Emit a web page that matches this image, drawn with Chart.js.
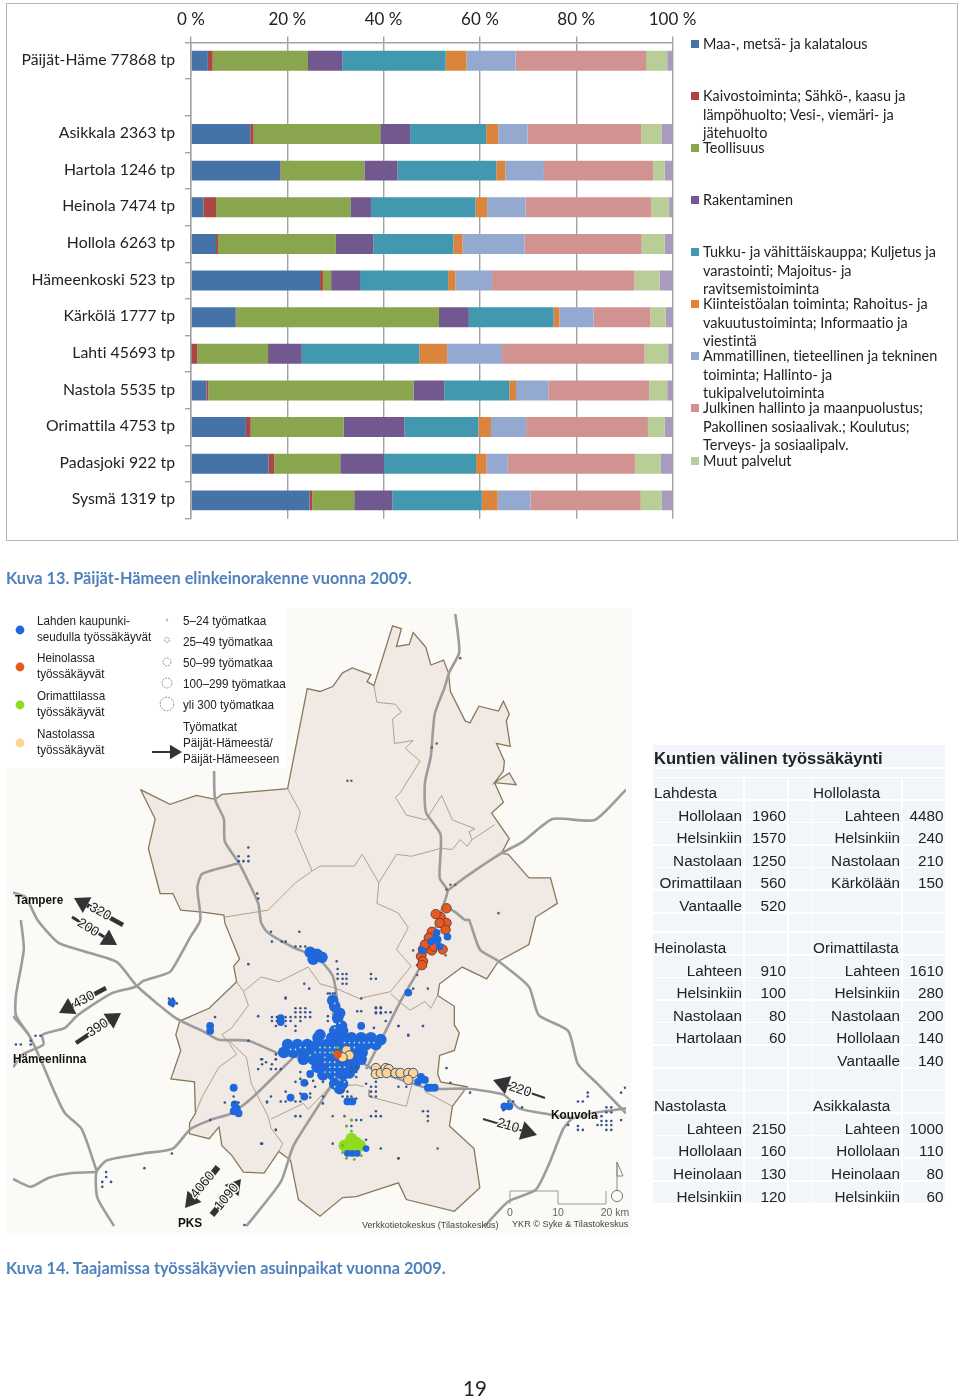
<!DOCTYPE html>
<html lang="fi">
<head>
<meta charset="utf-8">
<title>Päijät-Hämeen elinkeinorakenne</title>
<script src="https://cdn.jsdelivr.net/npm/chart.js@4/dist/chart.umd.min.js"></script>
<style>
    html, body { margin: 0; padding: 0; background: #fff; }
    #page { position: relative; width: 960px; height: 1398px; overflow: hidden; font-family: Lato, sans-serif; color: #222; font-variant-ligatures: none; }
    #page canvas { position: absolute; }
    .frame { position: absolute; left: 6px; top: 3px; width: 950px; height: 536px; border: 1.5px solid #b4b4b4; }
    .t { position: absolute; white-space: nowrap; transform: translateY(-50%); }
    .leg { font-size: 14.45px; line-height: 18.7px; white-space: pre; transform: none; color: #222; }
    .swatch { position: absolute; width: 8px; height: 8px; }
    .caption { font-weight: 700; font-size: 16.3px; color: #4f81bd; }
    .mapbg { position: absolute; background: #fbfaf7; }
    .ml { font-family: "Liberation Sans", sans-serif; font-size: 13.6px; color: #222; transform: translateY(-50%) scaleX(0.86); transform-origin: left center; }
    .city { font-family: "Liberation Sans", sans-serif; font-weight: 700; font-size: 13.4px; color: #111; transform: translateY(-50%) scaleX(0.88); transform-origin: left center; text-shadow: 0 0 2px #fff; }
    .src { font-family: "Liberation Sans", sans-serif; font-size: 9.1px; color: #444; }
    #kuntataulu { position: absolute; left: 653px; top: 745px; display: grid; column-gap: 1.5px; row-gap: 1.5px;
        grid-template-columns: 90px 42.5px 22px 89px 42px;
        font-family: "Liberation Sans", sans-serif; font-size: 15.3px; color: #222; }
    #kuntataulu div { background: #f2f6fa; text-align: right; white-space: nowrap; line-height: 12px; display: flex; align-items: flex-end; justify-content: flex-end; padding-right: 1px; }
    #kuntataulu div.nimi { justify-content: flex-start; padding-left: 1px; padding-right: 0; }
    #kuntataulu div.otsikko { grid-column: 1 / 6; justify-content: flex-start; font-weight: 700; font-size: 16.6px; line-height: 16px; padding-left: 1px; padding-right: 0; }
    #kuntataulu div.ohut { grid-column: 1 / 6; }
    #overlay { position: absolute; left: 0; top: 0; }
    #overlay text { font-family: "Liberation Sans", sans-serif; font-size: 13.5px; fill: #222; paint-order: stroke; stroke: #fbfaf7; stroke-width: 3px; text-anchor: middle; dominant-baseline: middle; }
</style>
</head>
<body>
<div id="page">
    <div class="frame"></div>
    <canvas id="graficoToimialat" width="960" height="545" style="left:0;top:0"></canvas>
    <div class="mapbg" style="left:7px;top:768px;width:625px;height:465px"></div>
    <div class="mapbg" style="left:287px;top:608px;width:345px;height:160px"></div>
    <canvas id="kartta" width="625" height="625" style="left:7px;top:608px"></canvas>
    <svg id="overlay" width="960" height="1398"></svg>
    <div id="kuntataulu"></div>
</div>

<script>
// toimialat chart
const categories = ["Päijät-Häme 77868 tp", "", "Asikkala 2363 tp", "Hartola 1246 tp", "Heinola 7474 tp", "Hollola 6263 tp",
    "Hämeenkoski 523 tp", "Kärkölä 1777 tp", "Lahti 45693 tp", "Nastola 5535 tp", "Orimattila 4753 tp", "Padasjoki 922 tp", "Sysmä 1319 tp"];
const tickLabels = [0, 20, 40, 60, 80, 100];

const maa =          [3.5, 0, 12.3, 18.5, 2.6, 5.2, 26.8, 9.3, 0.1, 3.2, 11.4, 16.1, 24.6];
const kaivos =       [1.0, 0, 0.7, 0.1, 2.6, 0.4, 0.6, 0.1, 1.2, 0.4, 1.0, 1.2, 0.6];
const teollisuus =   [19.8, 0, 26.3, 17.4, 27.9, 24.5, 1.7, 42.1, 14.7, 42.6, 19.3, 13.7, 8.7];
const rakentaminen = [7.1, 0, 6.2, 6.9, 4.3, 7.8, 6.0, 6.2, 7.0, 6.4, 12.6, 9.1, 7.9];
const tukku =        [21.5, 0, 15.8, 20.5, 21.7, 16.6, 18.3, 17.6, 24.4, 13.5, 15.4, 19.1, 18.6];
const kiinteisto =   [4.3, 0, 2.5, 1.9, 2.4, 1.9, 1.5, 1.2, 5.8, 1.4, 2.6, 2.2, 3.3];
const ammatillinen = [10.2, 0, 6.1, 8.0, 8.0, 12.9, 7.6, 7.1, 11.4, 6.7, 7.3, 4.4, 6.8];
const julkinen =     [27.1, 0, 23.6, 22.7, 26.1, 24.3, 29.6, 11.8, 29.6, 21.0, 25.3, 26.4, 22.9];
const muut =         [4.4, 0, 4.2, 2.4, 3.7, 4.8, 5.2, 3.2, 4.9, 3.7, 3.5, 5.3, 4.4];
const tuntematon =   [1.2, 0, 2.4, 1.6, 0.9, 1.6, 2.6, 1.4, 0.9, 1.2, 1.7, 2.5, 2.2];

const seriesValues = [maa, kaivos, teollisuus, rakentaminen, tukku, kiinteisto, ammatillinen, julkinen, muut, tuntematon];
const seriesColors = ["#4572a7", "#aa4643", "#89a54e", "#71588f", "#4198af", "#db843d", "#93a9cf", "#d19392", "#b9cd96", "#a99bbd"];
const legendLabels = [
    "Maa-, metsä- ja kalatalous",
    "Kaivostoiminta; Sähkö-, kaasu ja\nlämpöhuolto; Vesi-, viemäri- ja\njätehuolto",
    "Teollisuus",
    "Rakentaminen",
    "Tukku- ja vähittäiskauppa; Kuljetus ja\nvarastointi; Majoitus- ja\nravitsemistoiminta",
    "Kiinteistöalan toiminta; Rahoitus- ja\nvakuutustoiminta; Informaatio ja\nviestintä",
    "Ammatillinen, tieteellinen ja tekninen\ntoiminta; Hallinto- ja\ntukipalvelutoiminta",
    "Julkinen hallinto ja maanpuolustus;\nPakollinen sosiaalivak.; Koulutus;\nTerveys- ja sosiaalipalv.",
    "Muut palvelut"
];
const legendTops = [35, 87, 139, 191, 243, 295, 347, 399, 452];

// kuntien välinen työssäkäynti
const lahdesta = [["Hollolaan", 1960], ["Helsinkiin", 1570], ["Nastolaan", 1250], ["Orimattilaan", 560], ["Vantaalle", 520]];
const hollolasta = [["Lahteen", 4480], ["Helsinkiin", 240], ["Nastolaan", 210], ["Kärkölään", 150]];
const heinolasta = [["Lahteen", 910], ["Helsinkiin", 100], ["Nastolaan", 80], ["Hartolaan", 60]];
const orimattilasta = [["Lahteen", 1610], ["Helsinkiin", 280], ["Nastolaan", 200], ["Hollolaan", 140], ["Vantaalle", 140]];
const nastolasta = [["Lahteen", 2150], ["Hollolaan", 160], ["Heinolaan", 130], ["Helsinkiin", 120]];
const asikkalasta = [["Lahteen", 1000], ["Hollolaan", 110], ["Heinolaan", 80], ["Helsinkiin", 60]];

// kartta, map coordinates
const ulkoraja = [[137,787],[167,802],[194,793],[213,797],[220,792],[287,786],[307,684],[320,687],[333,682],[343,668],[353,663],[372,670],[368,677],[375,681],
    [394,620],[403,623],[398,641],[411,639],[415,627],[428,642],[433,660],[446,655],[451,668],[453,687],[468,717],[473,719],[482,702],[502,707],[507,697],[513,710],[510,717],[514,743],[500,740],
    [508,758],[507,768],[498,780],[513,770],[520,782],[498,780],[507,800],[495,811],[513,837],[505,852],[512,853],[533,877],[555,877],[562,903],[540,917],[533,945],[502,962],[490,980],[465,968],[442,985],
    [440,997],[457,1008],[457,1027],[462,1035],[457,1053],[442,1058],[440,1077],[443,1085],[470,1090],[455,1110],[452,1130],[477,1153],[483,1193],[457,1217],[408,1205],[400,1188],[357,1202],[343,1203],[320,1222],
    [298,1205],[290,1165],[278,1156],[263,1178],[242,1177],[230,1160],[220,1150],[217,1131],[207,1143],[187,1138],[187,1127],[193,1117],[192,1085],[168,1082],[178,1053],[173,1037],[177,1023],[207,1010],
    [235,983],[232,967],[238,960],[223,923],[222,915],[200,912],[178,910],[170,893],[157,893],[145,847],[152,817],[137,787]];
const sisarajat = [
    [[375,681],[378,698],[397,700],[403,708],[394,715],[396,740],[415,737],[407,745],[422,758],[402,790],[397,795],[408,813],[428,818],[444,793],[455,818],[478,827],[472,830],[475,838],[498,823]],
    [[287,786],[300,810],[295,830],[312,870],[320,865],[355,865],[363,853],[380,882],[398,853],[413,855],[443,847],[455,848],[463,838],[470,845],[475,838]],
    [[312,870],[295,882],[267,910],[223,917]],
    [[380,882],[378,903],[400,913],[410,928],[398,950],[413,967],[392,993],[360,1000],[337,990],[320,985],[308,968],[278,983],[260,978],[242,993],[235,983]],
    [[242,993],[247,1007],[230,1030],[220,1037],[227,1045],[235,1057],[217,1070],[200,1100],[193,1117]],
    [[227,1043],[245,1060],[250,1087],[267,1120],[270,1132],[282,1148],[278,1156]],
    [[270,1123],[303,1107],[308,1113],[330,1090],[357,1088],[365,1090]],
    [[370,1093],[370,1100],[408,1110],[415,1083]],
    [[427,1095],[455,1110],[468,1093]],
    [[392,995],[403,1005],[412,1012],[427,1003],[433,1010],[440,997]]
];
const tiet = [
    [[458,608],[462,647],[452,667],[447,683],[437,710],[433,753],[427,780],[428,810],[443,833],[442,877],[450,890],[445,907],[430,950],[420,972],[402,1003],[385,1037],[367,1072]],
    [[450,890],[470,875],[503,853],[527,840],[557,817],[600,818],[632,787]],
    [[445,905],[458,912],[468,920],[472,920],[483,950],[502,962],[533,988],[543,1017],[573,1033],[583,1067],[603,1087],[632,1117]],
    [[330,1040],[370,1070],[403,1083],[433,1092],[470,1092],[507,1098],[523,1112],[553,1118],[577,1122],[597,1117],[632,1112]],
    [[577,1122],[568,1133],[553,1170],[540,1195],[512,1207],[488,1232]],
    [[212,768],[213,797],[222,817],[223,840],[238,863],[257,903],[260,923],[267,933],[293,948],[310,955],[322,963],[333,977],[337,1000],[333,1017]],
    [[238,862],[200,873],[195,887],[198,920],[188,937],[177,957],[167,973],[140,982],[132,988],[107,995],[73,1017],[60,1030],[37,1037],[38,1047],[17,1057],[7,1070]],
    [[7,892],[20,897],[32,920],[53,943],[80,952],[113,963],[133,987],[173,1020],[200,1033],[217,1042],[247,1043],[280,1057],[300,1060]],
    [[340,1075],[320,1107],[293,1150],[280,1187],[245,1232]],
    [[293,1060],[250,1102],[230,1117],[208,1124],[188,1133],[170,1153],[140,1158],[103,1165],[92,1177],[93,1203],[110,1232]],
    [[92,1177],[67,1178],[43,1183],[25,1192],[7,1184]],
    [[7,1018],[23,1037],[35,1062],[50,1097],[60,1117],[77,1133],[92,1175]],
    [[15,920],[18,950],[10,997],[10,1017],[23,1037]]
];
const pienetSiniset = [[295,1010],[300,1010],[305,1010],[295,1014],[300,1014],[305,1014],[310,1014],[271,1019],[276,1019],[285,1019],[290,1019],[295,1019],[300,1019],[305,1019],[310,1019],
    [271,1023],[276,1023],[285,1023],[290,1023],[300,1023],[275,1028],[285,1028],[295,1028],[295,1033],[285,1000],[328,995],[333,995],[328,1018],[328,1023],[377,1009],[382,1009],[377,1014],[382,1014],[387,1014],
    [358,1013],[362,1013],[375,1030],[387,1023],[400,1028],[425,1028],[410,1038],[260,1062],[265,1065],[275,1057],[275,1062],[270,1072],[280,1072],[300,1075],[300,1082],[295,1085],[307,1087],[313,1084],[323,1085],
    [315,1090],[270,1100],[266,1105],[280,1105],[285,1095],[285,1105],[295,1105],[300,1097],[310,1097],[310,1101],[300,1105],[295,1120],[300,1120],[323,1100],[323,1107],[343,1095],[348,1095],[343,1100],[348,1100],[352,1100],[357,1102],
    [357,1070],[352,1070],[357,1075],[352,1075],[357,1080],[367,1087],[377,1085],[372,1090],[377,1090],[372,1095],[377,1095],[372,1100],[377,1100],[377,1115],[377,1120],[372,1120],[382,1120],[347,1130],[352,1124],[357,1124],[362,1124],[352,1130],
    [275,1134],[260,1148],[333,1148],[367,1144],[382,1153],[425,1115],[430,1115],[430,1120],[400,1090],[408,1090],[400,1163],
    [247,846],[237,855],[247,855],[237,860],[242,860],[247,860],[256,893],[257,898],[270,932],[299,932],[271,942],[281,942],[285,942],[295,947],[300,947],[305,947],[247,965],[304,985],[309,990],[285,999],[257,1018],[213,1019],[247,1043],
    [261,1062],[261,1067],[271,1067],[257,1072],[275,1072],[275,1062],[232,1100],[223,1106],[232,1106],[237,1106],[208,1124],[261,1148],[275,1134],[266,1106],[169,1158],[141,1173],[102,1177],[102,1182],[98,1187],[107,1187],[98,1192],[243,1231],
    [166,1000],[170,1000],[166,1005],[174,1005],[170,1008],[30,1038],[35,1038],[10,1047],[15,1047],[25,1043],[25,1047],
    [512,1105],[517,1105],[507,1114],[526,1111],[473,1096],[453,1086],[449,1071],[593,1096],[593,1100],[583,1105],[588,1105],[573,1129],[583,1130],[583,1134],[588,1134],[602,1120],[607,1120],[612,1111],[617,1111],[612,1116],[617,1116],
    [607,1125],[612,1125],[617,1125],[603,1129],[607,1129],[612,1129],[617,1129],[612,1134],[617,1134],[627,1124],[627,1096],[631,1091],
    [337,962],[338,970],[338,975],[343,975],[347,975],[338,980],[343,980],[347,980],[343,985],[347,985],[372,975],[372,980],[377,980],[330,995],[335,995],[377,1010],[382,1010],[377,1015],[382,1015],[392,1014],[362,1000],[415,990],[400,1028],[425,1028],[410,1037]];
const ruskeatPisteet = [[463,653],[439,740],[434,744],[348,778],[352,778],[453,884],[458,884],[449,889],[502,913],[415,951],[419,966],[448,956],[419,976],[430,990],[333,1120],[345,1120],[400,1163],[440,1153],[430,1125]];
const suuretSiniset = [[287,1047],[297,1047],[307,1047],[317,1047],[327,1047],[337,1047],[347,1047],[357,1047],[367,1047],[377,1047],
    [318,1040],[332,1040],[342,1040],[352,1040],[362,1040],[372,1040],[382,1042],
    [283,1055],[293,1055],[303,1055],[313,1055],[323,1055],[333,1055],[343,1055],[353,1055],[363,1055],
    [303,1062],[313,1062],[323,1062],[333,1062],[343,1062],[353,1062],[362,1062],
    [317,1070],[327,1070],[337,1070],[347,1070],[355,1069],
    [323,1078],[333,1078],[343,1078],[350,1076],[335,1087],[343,1087],[340,1092],
    [333,1002],[335,1008],[340,1015],[338,1020],[342,1028],[335,1033],[343,1033],[320,1037],
    [310,953],[313,960],[322,958],[317,955]];
const keskiSiniset = [[280,1020],[280,1024],[310,1077],[304,1086],[290,1101],[304,1100],[348,1105],[353,1105],[362,1028],[410,994],[169,1004],[208,1028],[208,1033],[232,1091],[235,1112],[232,1115],[237,1117],[233,1108],
    [423,1080],[420,1085],[427,1083],[430,1091],[433,1091],[437,1091],[513,1110],[508,1110]];
const vaaleatPisteet = [[320,1050],[325,1050],[330,1050],[335,1050],[315,1055],[320,1055],[325,1055],[330,1055],[345,1045],[350,1045],[355,1045],[360,1045],[365,1045],[325,1065],[330,1065],[335,1065],[345,1050],[350,1050],[355,1050],
    [330,1070],[335,1070],[340,1070],[345,1070],[330,1075],[335,1075],[335,1080],[340,1083],[345,1085],[300,1050],[305,1050],[295,1052],[335,1005],[340,1025],[335,1030],[290,1052],[310,1058],[325,1060],[325,1075],[335,1090],[370,1045],[375,1045]];
const oranssit = [[449,908],[443,917],[449,923],[442,923],[434,932],[425,950],[434,951],[423,957],[425,962],[424,966],[438,914],[431,938],[427,945],[436,947],[445,950],[448,930]];
const oranssiKeskella = [[338,1057]];
const sinisetOranssissa = [[437,940],[442,947],[439,933],[450,937],[433,942],[424,951],[440,940]];
const keltaiset = [[377,1071],[377,1077],[382,1076],[387,1071],[390,1072],[388,1076],[397,1076],[402,1076],[410,1076],[415,1076],[410,1083],[347,1053],[350,1058],[343,1060]];
const vihreat = [[352,1143],[350,1148],[357,1147],[348,1153],[357,1153],[353,1150],[345,1150],[361,1150]];
const sinisetVihreissa = [[348,1158],[353,1158],[358,1158],[367,1153]];
const vihreatPienet = [[343,1150],[343,1157],[347,1163],[355,1164],[362,1160],[352,1135],[338,1050],[333,1055],[347,1130],[352,1124]];

// map texts
const karttaSelite1 = ["Lahden kaupunki-", "seudulla työssäkäyvät", "Heinolassa", "työssäkäyvät", "Orimattilassa", "työssäkäyvät", "Nastolassa", "työssäkäyvät"];
const karttaSelite1Y = [620, 636, 657, 673, 695, 711, 733, 749];
const karttaSelite2 = ["5–24 työmatkaa", "25–49 työmatkaa", "50–99 työmatkaa", "100–299 työmatkaa", "yli 300 työmatkaa", "Työmatkat", "Päijät-Hämeestä/", "Päijät-Hämeeseen"];
const karttaSelite2Y = [620, 641, 662, 683, 704, 726, 742, 758];

const page = document.getElementById("page");

function addText(text, x, y, cls) {
    let el = document.createElement("div");
    el.className = "t " + cls;
    el.textContent = text;
    el.style.left = x + "px";
    el.style.top = y + "px";
    page.appendChild(el);
    return el;
}

// chart legend
legendLabels.forEach(function (label, i) {
    let sw = document.createElement("div");
    sw.className = "swatch";
    sw.style.left = "691px";
    sw.style.top = (legendTops[i] + 5) + "px";
    sw.style.background = seriesColors[i];
    page.appendChild(sw);
    addText(label, 703, legendTops[i], "leg");
});

new Chart(document.getElementById("graficoToimialat"), {
    type: "bar",
    data: {
        labels: categories,
        datasets: seriesValues.map(function (values, i) {
            return {
                label: legendLabels[i] || "",
                data: values,
                backgroundColor: seriesColors[i],
                borderWidth: 0,
                barPercentage: 0.545,
                categoryPercentage: 1
            };
        })
    },
    options: {
        indexAxis: "y",
        responsive: false,
        animation: false,
        layout: { padding: { top: 0, left: 0, right: 287.5, bottom: 26.3 } },
        plugins: { legend: { display: false }, tooltip: { enabled: false } },
        scales: {
            x: {
                position: "top",
                stacked: true,
                min: 0,
                max: 100,
                afterBuildTicks: function (scale) {
                    scale.ticks = tickLabels.map(v => ({ value: v }));
                },
                afterFit: function (scale) { scale.height = 42.4; },
                ticks: {
                    autoSkip: false,
                    maxRotation: 0,
                    padding: 7,
                    color: "#222",
                    font: { family: "Lato", size: 17 },
                    callback: v => v + " %"
                },
                grid: { color: "#a2a2a2", lineWidth: 1.4, tickLength: 6 },
                border: { color: "#a2a2a2", width: 1.4 }
            },
            y: {
                stacked: true,
                afterFit: function (scale) { scale.width = 191; },
                ticks: {
                    autoSkip: false,
                    padding: 10,
                    labelOffset: -1,
                    color: "#222",
                    font: { family: "Lato", size: 15.8 }
                },
                grid: { drawOnChartArea: false, color: "#a2a2a2", lineWidth: 1.4, tickLength: 6 },
                border: { color: "#a2a2a2", width: 1.4 }
            }
        }
    },
    plugins: [{
        // small letter spacing switches off the ti/tt ligatures of Lato
        id: "eiLigatuureja",
        beforeDraw: function (chart) { chart.ctx.letterSpacing = "0.01px"; }
    }]
});

addText("Kuva 13. Päijät-Hämeen elinkeinorakenne vuonna 2009.", 6, 577, "caption");
addText("Kuva 14. Taajamissa työssäkäyvien asuinpaikat vuonna 2009.", 6, 1267, "caption");
addText("19", 463, 1388, "").style.fontSize = "20.5px";

// map: first dataset is on top
function pisteet(data, color, radius, border) {
    return {
        data: data,
        pointRadius: radius,
        pointBackgroundColor: color,
        pointBorderColor: border || color,
        pointBorderWidth: border ? 1 : 0,
        showLine: false
    };
}
function viiva(data, color, width, tension) {
    return { data: data, showLine: true, borderColor: color, borderWidth: width, pointRadius: 0, tension: tension };
}

let karttaDatasets = [
    pisteet(vihreatPienet, "#7fb03c", 1.5),
    pisteet(oranssiKeskella, "#e8541c", 4),
    pisteet(sinisetOranssissa, "#1f68dc", 3.8),
    pisteet(oranssit, "#e8591f", 4.7, "#7a4030"),
    pisteet(vaaleatPisteet, "#cfd6c8", 0.9),
    pisteet(sinisetVihreissa, "#1f68dc", 3.4),
    pisteet(keltaiset, "#fdd490", 4.7, "#33558f"),
    pisteet(vihreat, "#8fdc1e", 6),
    pisteet(pienetSiniset, "#34568f", 1.3),
    pisteet(ruskeatPisteet, "#7d5a50", 1.3),
    pisteet(keskiSiniset, "#1f68dc", 3.9),
    pisteet(suuretSiniset, "#1f68dc", 5.8)
];
sisarajat.forEach(raja => karttaDatasets.push(viiva(raja, "#a79a80", 0.9, 0)));
tiet.forEach(tie => karttaDatasets.push(viiva(tie, "#9c9c9c", 2.6, 0.2)));
karttaDatasets.push(viiva(ulkoraja, "#857a58", 1.3, 0));
karttaDatasets.push(Object.assign(viiva(ulkoraja, "#f1e9e4", 0, 0), { fill: "shape", backgroundColor: "#f1e9e4" }));

new Chart(document.getElementById("kartta"), {
    type: "scatter",
    data: { datasets: karttaDatasets },
    options: {
        responsive: false,
        animation: false,
        layout: { padding: 0 },
        plugins: { legend: { display: false }, tooltip: { enabled: false } },
        scales: {
            x: { display: false, min: 7, max: 632 },
            y: { display: false, min: 608, max: 1233, reverse: true }
        }
    }
});

// map legend and city names
karttaSelite1.forEach((t, i) => addText(t, 37, karttaSelite1Y[i] - 0.5, "ml"));
karttaSelite2.forEach((t, i) => addText(t, 183, karttaSelite2Y[i] - 0.5, "ml"));
addText("Tampere", 15, 899, "city");
addText("Hämeenlinna", 13, 1058, "city");
addText("PKS", 178, 1222, "city");
addText("Kouvola", 551, 1114, "city");
addText("Verkkotietokeskus (Tilastokeskus)", 362, 1225, "src");
addText("YKR © Syke & Tilastokeskus", 512, 1224, "src");

// arrows, legend markers and scale bar go in one svg on top
const svg = document.getElementById("overlay");
function svgEl(name, attrs, text) {
    let el = document.createElementNS("http://www.w3.org/2000/svg", name);
    for (let k in attrs) el.setAttribute(k, attrs[k]);
    if (text) el.textContent = text;
    svg.appendChild(el);
    return el;
}
function nuoli(x1, y1, x2, y2, width, head, label, lx, ly) {
    let a = Math.atan2(y2 - y1, x2 - x1);
    let bx = x2 - head * Math.cos(a), by = y2 - head * Math.sin(a);
    let nx = -Math.sin(a) * head * 0.6, ny = Math.cos(a) * head * 0.6;
    svgEl("line", { x1: x1, y1: y1, x2: bx, y2: by, stroke: "#333", "stroke-width": width });
    svgEl("polygon", { points: [x2, y2, bx + nx, by + ny, bx - nx, by - ny].join(" "), fill: "#333" });
    if (label) {
        let deg = a * 180 / Math.PI;
        if (deg > 90) deg -= 180;
        if (deg < -90) deg += 180;
        svgEl("text", { x: lx, y: ly, transform: "rotate(" + deg + " " + lx + " " + ly + ")" }, label);
    }
}
nuoli(123, 925, 74, 898, 4.5, 15, "320", 100, 912);
nuoli(72, 917, 117, 945, 3, 15, "200", 88, 928);
nuoli(106, 988, 59, 1013, 4.5, 15, "430", 84, 1000);
nuoli(76, 1043, 121, 1013, 4.5, 15, "390", 98, 1028);
nuoli(218, 1167, 185, 1208, 6, 15, "4060", 203, 1185);
nuoli(212, 1215, 241, 1179, 6, 15, "1090", 227, 1197);
nuoli(545, 1098, 493, 1080, 2, 16, "220", 520, 1090);
nuoli(483, 1119, 537, 1135, 2, 16, "210", 508, 1126);
nuoli(152, 752, 182, 752, 2, 12);

const selitePallot = [["#1f68dc", 630], ["#e8591f", 667], ["#8fdc1e", 705], ["#fdd490", 743]];
selitePallot.forEach(p => svgEl("circle", { cx: 20, cy: p[1], r: 4.4, fill: p[0] }));
const seliteRenkaat = [[620, 1], [640, 2.5], [662, 4], [683, 5], [704, 6.8]];
seliteRenkaat.forEach(p => svgEl("circle", { cx: 167, cy: p[0], r: p[1], fill: "#fff", stroke: "#777", "stroke-width": 0.8, "stroke-dasharray": "2 1" }));

svgEl("polyline", { points: "510,1204 510,1191 558,1191 558,1204 606,1204 606,1191", fill: "none", stroke: "#999", "stroke-width": 1 });
svgEl("line", { x1: 617, y1: 1162, x2: 617, y2: 1190, stroke: "#888", "stroke-width": 1 });
svgEl("polygon", { points: "617,1162 623,1176 617,1176", fill: "none", stroke: "#888", "stroke-width": 1 });
svgEl("circle", { cx: 617, cy: 1196, r: 5.6, fill: "#fbfaf7", stroke: "#777", "stroke-width": 1 });
[["0", 510], ["10", 558], ["20 km", 615]].forEach(p => {
    let el = svgEl("text", { x: p[1], y: 1213 }, p[0]);
    el.style.fontSize = "10.5px";
    el.style.strokeWidth = "0";
    el.style.fill = "#666";
});

// kuntataulu
const rivit = [22, 8, 21.1, 21.1, 21.1, 21.1, 21.1, 21.1, 17.9, 21.1, 21.1, 21.1, 21.1, 21.1, 21.1, 21.2, 21.1, 21.1, 21.1, 21.1, 21.1];
const taulu = document.getElementById("kuntataulu");
taulu.style.gridTemplateRows = rivit.map(h => h + "px").join(" ");

function solu(text, cls) {
    let el = document.createElement("div");
    if (cls) el.className = cls;
    el.textContent = text;
    taulu.appendChild(el);
}
function otsikkoRivi(a, b) {
    solu(a, "nimi"); solu(""); solu(""); solu(b, "nimi"); solu("");
}
function taulukkoRivit(vasen, oikea, lkm) {
    for (let i = 0; i < lkm; i++) {
        let a = vasen[i] || ["", ""], b = oikea[i] || ["", ""];
        solu(a[0]); solu(a[1]); solu(""); solu(b[0]); solu(b[1]);
    }
}
function tyhjaRivi() {
    for (let i = 0; i < 5; i++) solu("");
}
solu("Kuntien välinen työssäkäynti", "otsikko");
solu("", "ohut");
otsikkoRivi("Lahdesta", "Hollolasta");
taulukkoRivit(lahdesta, hollolasta, 5);
tyhjaRivi();
otsikkoRivi("Heinolasta", "Orimattilasta");
taulukkoRivit(heinolasta, orimattilasta, 5);
tyhjaRivi();
otsikkoRivi("Nastolasta", "Asikkalasta");
taulukkoRivit(nastolasta, asikkalasta, 4);
</script>
</body>
</html>
